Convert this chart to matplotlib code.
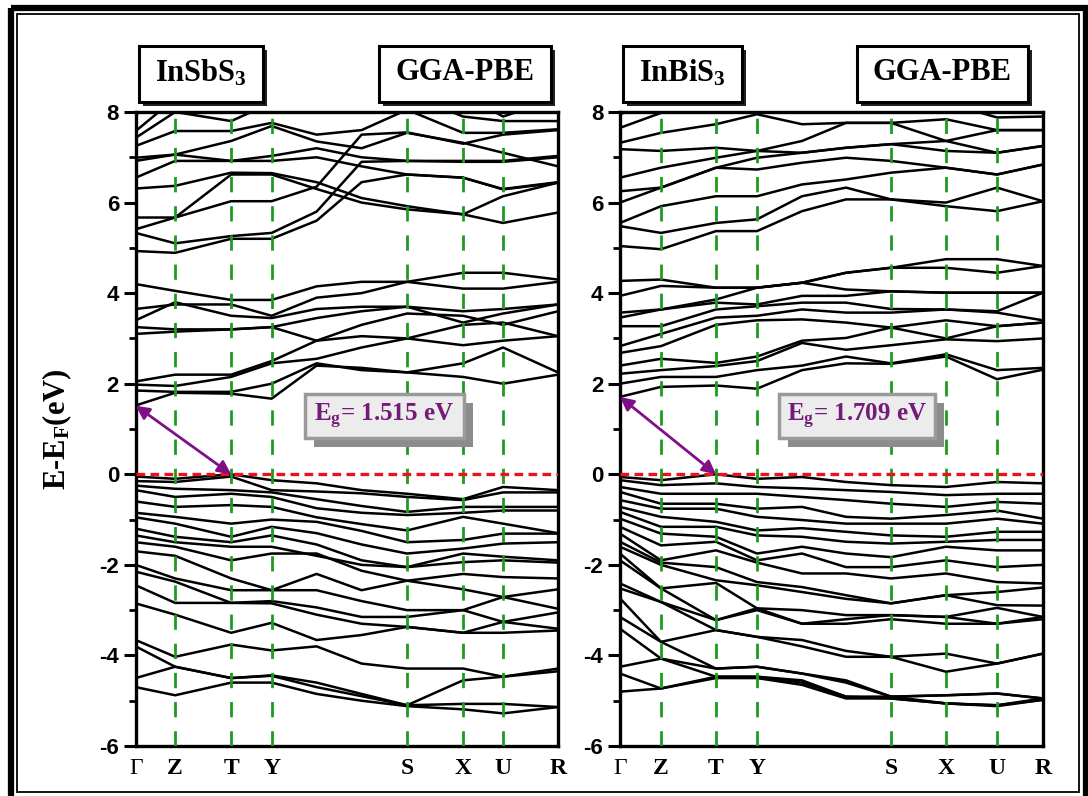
import matplotlib
matplotlib.use("Agg")
import matplotlib.pyplot as plt
from matplotlib.patches import Rectangle
from matplotlib.ticker import MultipleLocator

plt.rcParams["axes.unicode_minus"] = False
plt.rcParams["mathtext.fontset"] = "custom"
plt.rcParams["mathtext.rm"] = "Liberation Serif:bold"
plt.rcParams["mathtext.bf"] = "Liberation Serif:bold"
plt.rcParams["mathtext.it"] = "Liberation Serif:italic:bold"

W, H = 1088, 796

K_LABELS = ["Γ", "Z", "T", "Y", "S", "X", "U", "R"]

# k-path distance: high-symmetry points, plus two samples on the long Y-S leg
sb_k = [0, 39.5, 95.5, 136, 181, 226, 271.5, 327.5, 367.5, 422.5]
sb_sym = [0, 39.5, 95.5, 136, 271.5, 327.5, 367.5, 422.5]
bi_k = [0, 41, 96, 137, 182, 226, 271, 326, 377, 423]
bi_sym = [0, 41, 96, 137, 271, 326, 377, 423]

sb_gap = 1.515
bi_gap = 1.709

# InSbS3 conduction bands (eV), columns follow sb_k
sb_cond = [
    [1.52, 1.80, 1.78, 1.67, 2.40, 2.35, 2.25, 2.15, 2.00, 2.20],
    [1.85, 1.82, 1.82, 2.00, 2.45, 2.30, 2.25, 2.45, 2.80, 2.25],
    [1.98, 1.95, 2.15, 2.45, 2.55, 2.80, 3.00, 2.85, 2.95, 3.05],
    [2.05, 2.20, 2.20, 2.50, 2.95, 3.05, 3.00, 3.30, 3.35, 3.05],
    [3.10, 3.15, 3.20, 3.25, 2.95, 3.30, 3.55, 3.50, 3.30, 3.60],
    [3.25, 3.20, 3.20, 3.25, 3.45, 3.60, 3.70, 3.35, 3.55, 3.75],
    [3.40, 3.80, 3.50, 3.45, 3.65, 3.70, 3.70, 3.60, 3.65, 3.75],
    [3.65, 3.75, 3.75, 3.50, 3.90, 4.00, 4.25, 4.10, 4.10, 4.25],
    [4.20, 4.05, 3.85, 3.85, 4.15, 4.25, 4.25, 4.45, 4.45, 4.30],
    [4.93, 4.89, 5.20, 5.20, 5.60, 6.45, 6.62, 6.55, 6.30, 6.45],
    [5.33, 5.10, 5.26, 5.33, 5.80, 6.90, 6.92, 6.90, 6.90, 7.00],
    [5.41, 5.67, 6.03, 6.03, 6.35, 7.50, 7.55, 7.30, 7.50, 7.60],
    [5.67, 5.67, 6.62, 6.62, 6.30, 6.00, 5.85, 5.74, 5.55, 5.78],
    [6.31, 6.37, 6.66, 6.65, 6.45, 6.10, 5.92, 5.74, 6.14, 6.44],
    [6.55, 6.92, 6.92, 6.92, 7.00, 6.80, 6.62, 6.55, 6.29, 6.44],
    [6.92, 7.06, 6.92, 7.03, 7.20, 7.00, 6.92, 6.92, 6.92, 7.03],
    [6.99, 7.06, 7.36, 7.69, 7.35, 7.20, 7.54, 7.32, 7.10, 6.80],
    [7.25, 7.58, 7.58, 7.76, 7.50, 7.60, 8.05, 7.54, 7.54, 7.62],
    [7.43, 8.00, 7.80, 8.20, 8.40, 8.40, 8.40, 7.90, 7.80, 7.80],
    [7.58, 8.30, 8.30, 8.30, 8.40, 8.40, 8.40, 8.40, 7.90, 8.30],
    [7.95, 8.40, 8.40, 8.40, 8.50, 8.50, 8.50, 8.50, 8.40, 8.40],
]

# InSbS3 valence bands (eV)
sb_val = [
    [-0.05, -0.10, 0.00, -0.13, -0.20, -0.35, -0.43, -0.55, -0.28, -0.35],
    [-0.15, -0.17, -0.05, -0.35, -0.38, -0.42, -0.50, -0.57, -0.40, -0.40],
    [-0.25, -0.32, -0.35, -0.40, -0.55, -0.70, -0.83, -0.72, -0.72, -0.72],
    [-0.35, -0.50, -0.43, -0.50, -0.75, -0.85, -0.90, -0.85, -0.80, -0.80],
    [-0.60, -0.72, -0.68, -0.72, -0.95, -1.10, -1.24, -0.94, -1.09, -1.30],
    [-0.85, -0.94, -1.09, -1.00, -1.05, -1.25, -1.50, -1.45, -1.31, -1.31],
    [-0.95, -1.09, -1.38, -1.16, -1.30, -1.55, -1.75, -1.64, -1.53, -1.50],
    [-1.20, -1.38, -1.50, -1.35, -1.55, -1.90, -2.05, -1.75, -1.82, -1.90],
    [-1.35, -1.50, -1.60, -1.60, -1.80, -2.00, -2.05, -1.94, -1.90, -1.95],
    [-1.50, -1.60, -1.90, -1.75, -1.75, -2.13, -2.35, -2.20, -2.27, -2.30],
    [-1.70, -1.80, -2.30, -2.56, -2.20, -2.56, -2.35, -2.54, -2.71, -2.54],
    [-2.00, -2.30, -2.56, -2.56, -2.56, -2.80, -3.00, -3.00, -2.71, -2.97],
    [-2.15, -2.37, -2.84, -2.80, -2.94, -3.15, -3.15, -3.00, -3.26, -3.05],
    [-2.45, -2.84, -2.84, -2.85, -3.10, -3.30, -3.37, -3.50, -3.26, -3.41],
    [-2.85, -3.10, -3.50, -3.28, -3.66, -3.55, -3.37, -3.50, -3.50, -3.45],
    [-3.66, -4.03, -3.76, -3.89, -3.80, -4.18, -4.29, -4.29, -4.47, -4.29],
    [-3.80, -4.25, -4.50, -4.44, -4.60, -4.85, -5.10, -4.55, -4.47, -4.35],
    [-4.50, -4.25, -4.50, -4.45, -4.70, -4.90, -5.10, -5.07, -5.07, -5.14],
    [-4.70, -4.88, -4.60, -4.60, -4.85, -5.00, -5.12, -5.19, -5.28, -5.14],
]

# InBiS3 conduction bands (eV), columns follow bi_k
bi_cond = [
    [1.71, 1.93, 1.96, 1.89, 2.30, 2.45, 2.44, 2.60, 2.10, 2.31],
    [2.00, 2.15, 2.15, 2.30, 2.40, 2.60, 2.45, 2.65, 2.30, 2.35],
    [2.22, 2.30, 2.39, 2.50, 2.90, 2.75, 2.85, 2.98, 2.94, 3.00],
    [2.40, 2.55, 2.46, 2.60, 2.95, 3.01, 3.24, 3.00, 3.27, 3.35],
    [2.68, 2.83, 3.30, 3.40, 3.42, 3.35, 3.24, 3.40, 3.27, 3.35],
    [2.83, 3.10, 3.46, 3.50, 3.64, 3.57, 3.57, 3.64, 3.57, 3.40],
    [3.27, 3.27, 3.64, 3.71, 3.79, 3.79, 3.65, 3.64, 3.60, 4.01],
    [3.46, 3.64, 3.79, 3.75, 3.94, 3.94, 4.04, 4.01, 4.01, 4.01],
    [3.57, 3.64, 3.86, 4.12, 4.23, 4.08, 4.04, 4.01, 4.01, 4.01],
    [3.94, 4.16, 4.12, 4.12, 4.23, 4.45, 4.56, 4.56, 4.45, 4.60],
    [4.27, 4.30, 4.12, 4.12, 4.23, 4.45, 4.56, 4.75, 4.75, 4.60],
    [5.04, 4.97, 5.37, 5.37, 5.81, 6.07, 6.07, 5.92, 5.81, 6.03],
    [5.48, 5.33, 5.55, 5.63, 6.14, 6.33, 6.07, 6.00, 6.33, 6.03],
    [5.55, 5.92, 6.14, 6.14, 6.40, 6.51, 6.66, 6.77, 6.62, 6.84],
    [6.00, 6.33, 6.77, 6.73, 6.88, 6.99, 6.92, 6.77, 6.62, 6.84],
    [6.25, 6.33, 6.77, 6.99, 7.10, 7.21, 7.29, 7.14, 7.10, 7.25],
    [6.55, 6.77, 6.99, 7.14, 7.10, 7.21, 7.29, 7.36, 7.10, 7.25],
    [7.18, 7.14, 7.21, 7.14, 7.36, 7.76, 7.76, 7.36, 7.60, 7.60],
    [7.32, 7.54, 7.73, 7.95, 7.73, 7.76, 7.76, 7.84, 7.60, 7.60],
    [7.65, 7.98, 8.20, 8.20, 8.20, 8.20, 8.20, 8.20, 7.88, 7.90],
    [7.95, 8.30, 8.30, 8.30, 8.30, 8.30, 8.30, 8.30, 8.30, 8.30],
]

# InBiS3 valence bands (eV)
bi_val = [
    [-0.06, -0.13, 0.00, -0.10, -0.06, -0.17, -0.24, -0.28, -0.17, -0.20],
    [-0.13, -0.24, -0.20, -0.28, -0.31, -0.35, -0.39, -0.46, -0.43, -0.43],
    [-0.28, -0.43, -0.43, -0.43, -0.50, -0.57, -0.65, -0.72, -0.61, -0.65],
    [-0.39, -0.65, -0.65, -0.76, -0.72, -0.94, -0.98, -0.90, -0.80, -0.98],
    [-0.57, -0.76, -0.76, -0.94, -1.01, -1.09, -1.09, -1.09, -0.98, -1.09],
    [-0.72, -0.94, -1.05, -1.24, -1.19, -1.27, -1.35, -1.38, -1.27, -1.27],
    [-0.83, -1.16, -1.16, -1.35, -1.38, -1.49, -1.53, -1.49, -1.45, -1.45],
    [-0.98, -1.31, -1.38, -1.75, -1.60, -1.75, -1.83, -1.60, -1.68, -1.68],
    [-1.16, -1.57, -1.49, -1.90, -1.75, -2.05, -2.05, -1.90, -2.05, -2.00],
    [-1.31, -1.90, -1.68, -1.95, -2.19, -2.19, -2.30, -2.19, -2.38, -2.41],
    [-1.49, -1.95, -2.05, -2.38, -2.49, -2.67, -2.85, -2.67, -2.60, -2.50],
    [-1.60, -2.00, -2.34, -2.45, -2.60, -2.75, -2.85, -2.67, -2.89, -2.90],
    [-1.75, -2.52, -2.40, -2.96, -3.00, -3.11, -3.11, -3.15, -2.95, -3.15],
    [-1.90, -2.52, -3.22, -3.00, -3.30, -3.20, -3.11, -3.15, -3.30, -3.15],
    [-2.41, -2.82, -3.22, -2.96, -3.30, -3.30, -3.20, -3.30, -3.30, -3.20],
    [-2.52, -2.82, -3.44, -3.59, -3.66, -3.90, -4.03, -3.96, -4.18, -3.96],
    [-2.74, -3.70, -3.44, -3.59, -3.80, -4.03, -4.03, -4.36, -4.18, -3.96],
    [-3.15, -3.70, -4.29, -4.25, -4.40, -4.60, -4.91, -4.88, -4.84, -4.95],
    [-3.41, -4.07, -4.47, -4.47, -4.55, -4.91, -4.91, -5.06, -5.10, -4.95],
    [-4.25, -4.07, -4.29, -4.25, -4.40, -4.55, -4.91, -4.88, -4.84, -4.95],
    [-4.40, -4.73, -4.47, -4.47, -4.60, -4.91, -4.95, -5.06, -5.10, -4.98],
    [-4.80, -4.73, -4.50, -4.50, -4.65, -4.95, -4.95, -5.06, -5.12, -4.98],
]


def px_axes(fig, x0, y0, x1, y1, **kw):
    return fig.add_axes([x0 / W, 1 - y1 / H, (x1 - x0) / W, (y1 - y0) / H], **kw)


def shadow_box(ax, x0, y0, x1, y1, face, edge, shadow, off, lw):
    ax.add_patch(Rectangle((x0 + off[0], y0 + off[1]), x1 - x0, y1 - y0,
                           facecolor=shadow, edgecolor="none"))
    ax.add_patch(Rectangle((x0, y0), x1 - x0, y1 - y0,
                           facecolor=face, edgecolor=edge, lw=lw))


def draw_panel(ax, k, sym, cond, val, gap):
    for band in cond + val:
        ax.plot(k, band, color="black", lw=1.8, zorder=2)
    for x in sym[1:-1]:
        ax.axvline(x, color="#1f9a1f", lw=2.0, ls=(0, (5.5, 5)), zorder=3)
    ax.axhline(0, color="#e8141a", lw=2.4, ls=(0, (2.6, 1.6)), zorder=4)
    ax.annotate("", xy=(sym[2], 0), xytext=(sym[0], gap),
                arrowprops=dict(arrowstyle="<|-|>", color="#7f0f86", lw=2,
                                mutation_scale=20, shrinkA=0, shrinkB=0),
                zorder=5)
    ax.set_xlim(sym[0], sym[-1])
    ax.set_ylim(-6, 8)
    ax.set_xticks(sym)
    ax.set_xticklabels(K_LABELS, fontfamily="Liberation Serif",
                       fontweight="bold", fontsize=17)
    ax.get_xticklabels()[0].set_fontweight("normal")
    ax.tick_params(axis="x", length=0, pad=9)
    ax.yaxis.set_major_locator(MultipleLocator(2))
    ax.yaxis.set_minor_locator(MultipleLocator(1))
    ax.tick_params(axis="y", which="major", direction="out", length=9,
                   width=2.2, labelsize=16, pad=3)
    ax.tick_params(axis="y", which="minor", direction="out", length=5,
                   width=2.0)
    for lab in ax.get_yticklabels():
        lab.set_fontfamily("Liberation Sans")
        lab.set_fontweight("bold")
    for sp in ax.spines.values():
        sp.set_linewidth(2.4)


fig = plt.figure(figsize=(W / 100, H / 100), dpi=100)

bg = px_axes(fig, 0, 0, W, H, zorder=0)
bg.set_xlim(0, W)
bg.set_ylim(H, 0)
bg.axis("off")
bg.add_patch(Rectangle((10.5, 7.5), 1075, 800, fill=False, ec="black", lw=4.5))
bg.add_patch(Rectangle((16.5, 13.5), 1062, 778, fill=False, ec="black", lw=1.3))

title_font = dict(fontfamily="Liberation Serif", fontweight="bold",
                  fontsize=22, ha="center", va="center")
for x0, x1, label in [(139, 263, r"InSbS$_{\mathbf{3}}$"),
                      (379, 551, "GGA-PBE"),
                      (623, 742, r"InBiS$_{\mathbf{3}}$"),
                      (857, 1028, "GGA-PBE")]:
    shadow_box(bg, x0, 46, x1, 102, "white", "black", "#222222", (4, 4), 2.2)
    bg.text((x0 + x1) / 2, 73, label, **title_font)

ax1 = px_axes(fig, 135.7, 112, 558, 746, zorder=2)
draw_panel(ax1, sb_k, sb_sym, sb_cond, sb_val, sb_gap)
ax1.set_ylabel(r"E-E$_{\mathbf{F}}$(eV)", fontfamily="Liberation Serif",
               fontweight="bold", fontsize=22, labelpad=18)

ax2 = px_axes(fig, 620, 112, 1043, 746, zorder=2)
draw_panel(ax2, bi_k, bi_sym, bi_cond, bi_val, bi_gap)

fg = px_axes(fig, 0, 0, W, H, zorder=10)
fg.set_xlim(0, W)
fg.set_ylim(H, 0)
fg.axis("off")
for x0, x1, gap in [(305, 464, sb_gap), (779, 935, bi_gap)]:
    shadow_box(fg, x0, 394, x1, 438, "#ececec", "#9a9a9a", "#8c8c8c", (9, 9), 2.5)
    fg.text((x0 + x1) / 2, 416, r"E$_{\mathbf{g}}$= " + f"{gap:.3f} eV",
            color="#741a78", fontfamily="Liberation Serif", fontweight="bold",
            fontsize=18, ha="center", va="center")

fig.savefig("out.png", dpi=100)
